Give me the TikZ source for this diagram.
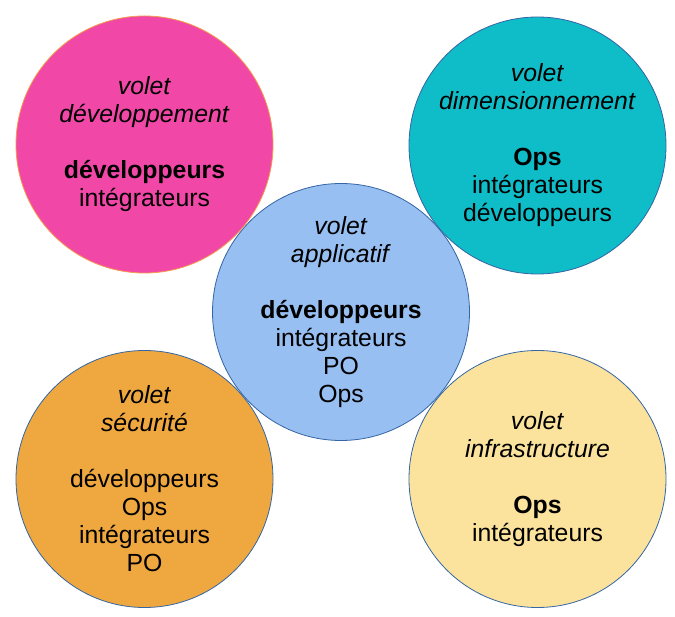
\documentclass[tikz,border=0pt]{standalone}
\usepackage{fontspec}
\setmainfont{Liberation Sans}
\definecolor{cpink}{HTML}{F148A8}
\definecolor{cpinkb}{HTML}{F59A4A}
\definecolor{cteal}{HTML}{0FBDC8}
\definecolor{cblue}{HTML}{98BFF2}
\definecolor{corange}{HTML}{EFA83F}
\definecolor{cyellow}{HTML}{FCE39D}
\definecolor{cborder}{HTML}{3465A4}
\begin{document}
\begin{tikzpicture}[x=1pt,y=-1pt,
  volet/.style={circle,minimum size=257pt,inner sep=0pt,draw=cborder,line width=0.8pt,
    align=center,font=\fontsize{24.8}{28}\selectfont}]
\useasboundingbox (0,0) rectangle (675,617);
\node[volet,fill=cpink,draw=cpinkb] (dev) at (144.5,144.5) {\textit{volet}\\\textit{développement}\\[28pt]\textbf{développeurs}\\intégrateurs};
\node[volet,fill=cteal] (dim) at (537.5,145.5) {\textit{volet}\\\textit{dimensionnement}\\[28pt]\textbf{Ops}\\intégrateurs\\développeurs};
\node[volet,fill=corange] (sec) at (144.5,479) {\textit{volet}\\\textit{sécurité}\\[28pt]développeurs\\Ops\\intégrateurs\\PO};
\node[volet,fill=cyellow] (inf) at (537.5,479) {\textit{volet}\\\textit{infrastructure}\\[28pt]\textbf{Ops}\\intégrateurs};
\node[volet,fill=cblue] (app) at (341,312) {\textit{volet}\\\textit{applicatif}\\[28pt]\textbf{développeurs}\\intégrateurs\\PO\\Ops};
\end{tikzpicture}
\end{document}
